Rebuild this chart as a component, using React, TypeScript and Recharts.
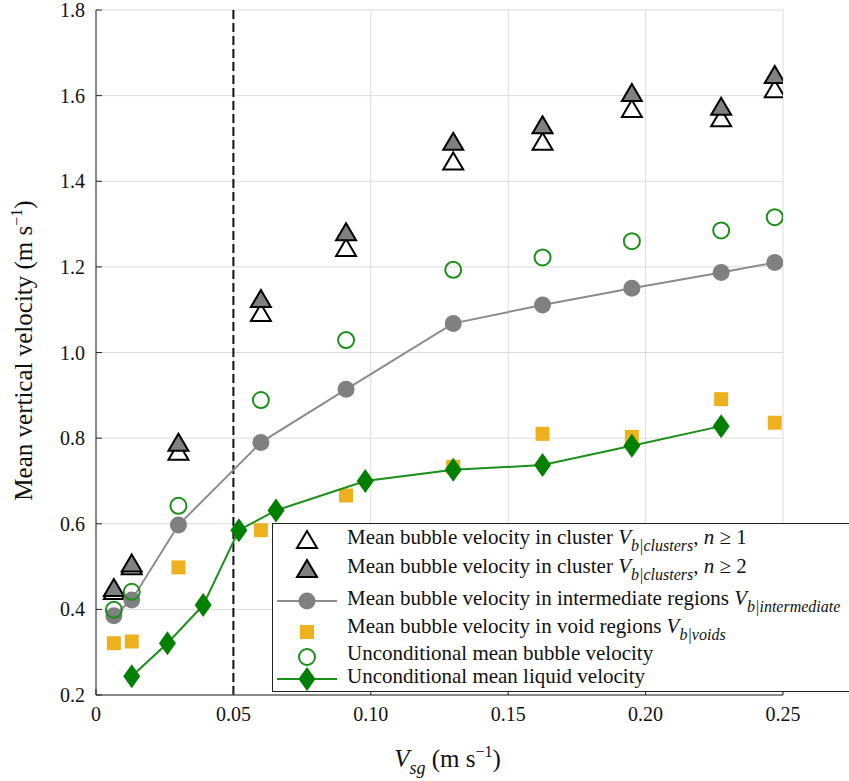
import { ScatterChart, Scatter, XAxis, YAxis, CartesianGrid, ReferenceLine, Legend } from "recharts";

document.body.style.margin = "0";

const SERIF = "'Liberation Serif', 'Times New Roman', serif";

// superficial gas velocity (m/s) for the bubble series
const vsgBubble = [0.0065, 0.013, 0.03, 0.06, 0.091, 0.13, 0.1625, 0.195, 0.2275, 0.247];
// superficial gas velocity for the liquid series
const vsgLiquid = [0.013, 0.026, 0.039, 0.052, 0.0655, 0.098, 0.13, 0.1625, 0.195, 0.2275];

const clusterN1 = [0.443, 0.501, 0.768, 1.092, 1.244, 1.446, 1.492, 1.569, 1.547, 1.615];
const clusterN2 = [0.45, 0.507, 0.789, 1.125, 1.281, 1.492, 1.531, 1.606, 1.574, 1.648];
const intermediate = [0.385, 0.422, 0.597, 0.79, 0.914, 1.068, 1.111, 1.15, 1.187, 1.21];
const voids = [0.321, 0.325, 0.498, 0.585, 0.666, 0.733, 0.81, 0.803, 0.891, 0.836];
const bubbleMean = [0.399, 0.441, 0.642, 0.889, 1.029, 1.193, 1.222, 1.26, 1.285, 1.316];
const liquidMean = [0.244, 0.321, 0.41, 0.585, 0.631, 0.7, 0.726, 0.737, 0.782, 0.828];

const xTicks = [0, 0.05, 0.1, 0.15, 0.2, 0.25];
const yTicks = [0.2, 0.4, 0.6, 0.8, 1.0, 1.2, 1.4, 1.6, 1.8];

const pair = (xs: number[], ys: number[]) => xs.map((x, i) => ({ x, y: ys[i] }));

const GREEN = "#008000";
const GREEN_LINE = "#1a8f1a";
const GRAY = "#808080";
const ORANGE = "#EDB120";

const triPoints = (cx: number, cy: number) =>
  `${cx},${cy - 9} ${cx + 10},${cy + 8} ${cx - 10},${cy + 8}`;

const TriOpen = (p: any) => (
  <polygon points={triPoints(p.cx, p.cy)} fill="#fff" stroke="#000" strokeWidth={2} strokeLinejoin="miter" />
);
const TriGray = (p: any) => (
  <polygon points={triPoints(p.cx, p.cy)} fill={GRAY} stroke="#000" strokeWidth={2} strokeLinejoin="miter" />
);
const GrayDot = (p: any) => <circle cx={p.cx} cy={p.cy} r={8.5} fill={GRAY} />;
const Square = (p: any) => <rect x={p.cx - 7} y={p.cy - 7} width={14} height={14} fill={ORANGE} />;
const Ring = (p: any) => <circle cx={p.cx} cy={p.cy} r={8} fill="none" stroke={GREEN_LINE} strokeWidth={2} />;
const diamondPoints = (cx: number, cy: number) =>
  `${cx},${cy - 12} ${cx + 8.5},${cy} ${cx},${cy + 12} ${cx - 8.5},${cy}`;
const Diamond = (p: any) => <polygon points={diamondPoints(p.cx, p.cy)} fill={GREEN} />;

const fmtX = (v: number) => (v === 0 ? "0" : v.toFixed(2));
const fmtY = (v: number) => v.toFixed(1);
const blank = () => "";

const XTick = (p: any) => (
  <text x={p.x} y={p.y} dy="0.71em" textAnchor="middle" fontFamily={SERIF} fontSize={20} fill="#111">
    {fmtX(p.payload.value)}
  </text>
);
const YTick = (p: any) => (
  <text x={p.x} y={p.y} dy="0.355em" textAnchor="end" fontFamily={SERIF} fontSize={20} fill="#111">
    {fmtY(p.payload.value)}
  </text>
);

const XLabel = (props: any) => {
  const vb = props.viewBox || { x: 96, y: 695, width: 687 };
  return (
    <text x={vb.x + vb.width / 2 + 8} y={vb.y + 72} textAnchor="middle" fontFamily={SERIF} fontSize={25} fill="#111">
      <tspan fontStyle="italic">V</tspan>
      <tspan fontStyle="italic" fontSize={18} dy={7}>sg</tspan>
      <tspan dy={-7}>{" (m s"}</tspan>
      <tspan fontSize={16} dy={-10}>−1</tspan>
      <tspan dy={10}>)</tspan>
    </text>
  );
};

const YLabel = (props: any) => {
  const vb = props.viewBox || { x: 0, y: 10, height: 685 };
  const x = vb.x + 32;
  const y = vb.y + vb.height / 2 - 2;
  return (
    <text x={x} y={y} transform={`rotate(-90, ${x}, ${y})`} textAnchor="middle" fontFamily={SERIF} fontSize={25} fill="#111">
      Mean vertical velocity (m s
      <tspan fontSize={16} dy={-10}>−1</tspan>
      <tspan dy={10}>)</tspan>
    </text>
  );
};

const LegendBox = () => {
  const fs = 21;
  const sub = 16;
  return (
    <svg width={577} height={170} style={{ display: "block" }} fontFamily={SERIF}>
      <rect x={0.5} y={0.5} width={620} height={168} fill="#fff" stroke="#222" strokeWidth={1} />
      {/* row 1 */}
      <polygon points={triPoints(35, 17)} fill="#fff" stroke="#000" strokeWidth={2} />
      <text x={75} y={21} fontSize={fs} fill="#111">
        Mean bubble velocity in cluster <tspan fontStyle="italic">V</tspan>
        <tspan fontStyle="italic" fontSize={sub} dy={7}>b|clusters</tspan>
        <tspan dy={-7}>{", "}</tspan>
        <tspan fontStyle="italic">n</tspan>
        <tspan>{" ≥ 1"}</tspan>
      </text>
      {/* row 2 */}
      <polygon points={triPoints(35, 46)} fill={GRAY} stroke="#000" strokeWidth={2} />
      <text x={75} y={50} fontSize={fs} fill="#111">
        Mean bubble velocity in cluster <tspan fontStyle="italic">V</tspan>
        <tspan fontStyle="italic" fontSize={sub} dy={7}>b|clusters</tspan>
        <tspan dy={-7}>{", "}</tspan>
        <tspan fontStyle="italic">n</tspan>
        <tspan>{" ≥ 2"}</tspan>
      </text>
      {/* row 3 */}
      <line x1={5} x2={65} y1={78} y2={78} stroke="#8c8c8c" strokeWidth={2} />
      <circle cx={35} cy={78} r={8.5} fill={GRAY} />
      <text x={75} y={82} fontSize={fs} fill="#111">
        Mean bubble velocity in intermediate regions <tspan fontStyle="italic">V</tspan>
        <tspan fontStyle="italic" fontSize={sub} dy={7}>b|intermediate</tspan>
      </text>
      {/* row 4 */}
      <rect x={28} y={102} width={14} height={14} fill={ORANGE} />
      <text x={75} y={110} fontSize={fs} fill="#111">
        Mean bubble velocity in void regions <tspan fontStyle="italic">V</tspan>
        <tspan fontStyle="italic" fontSize={sub} dy={7}>b|voids</tspan>
      </text>
      {/* row 5 */}
      <circle cx={35} cy={134} r={8} fill="none" stroke={GREEN_LINE} strokeWidth={2} />
      <text x={75} y={137} fontSize={fs} fill="#111">
        Unconditional mean bubble velocity
      </text>
      {/* row 6 */}
      <line x1={5} x2={65} y1={156} y2={156} stroke={GREEN_LINE} strokeWidth={2} />
      <polygon points={diamondPoints(35, 156)} fill={GREEN} />
      <text x={75} y={160} fontSize={fs} fill="#111">
        Unconditional mean liquid velocity
      </text>
    </svg>
  );
};

export default function App() {
  return (
    <div style={{ width: 849, height: 781, overflow: "hidden", background: "#fff", fontFamily: SERIF }}>
      <ScatterChart width={849} height={781} margin={{ top: 10, right: 66, bottom: 0, left: 0 }}>
        <CartesianGrid stroke="#dcdcdc" strokeWidth={1} />
        <XAxis
          type="number"
          dataKey="x"
          domain={[0, 0.25]}
          ticks={xTicks}
          allowDataOverflow
          height={86}
          tickSize={-6}
          tickMargin={18}
          stroke="#262626"
          tick={XTick}
          label={XLabel}
        />
        <XAxis
          xAxisId="top"
          orientation="top"
          type="number"
          domain={[0, 0.25]}
          ticks={xTicks}
          allowDataOverflow
          tickFormatter={blank}
          height={0}
          tickSize={-6}
          stroke="#262626"
        />
        <YAxis
          type="number"
          dataKey="y"
          domain={[0.2, 1.8]}
          ticks={yTicks}
          allowDataOverflow
          width={96}
          tickSize={-6}
          tickMargin={17}
          stroke="#262626"
          tick={YTick}
          label={YLabel}
        />
        <YAxis
          yAxisId="right"
          orientation="right"
          type="number"
          domain={[0.2, 1.8]}
          ticks={yTicks}
          allowDataOverflow
          tickFormatter={blank}
          width={0}
          tickSize={-6}
          stroke="#262626"
        />
        <ReferenceLine x={0.05} stroke="#111" strokeWidth={2} strokeDasharray="9 4" />
        <Scatter data={pair(vsgBubble, clusterN1)} shape={TriOpen} isAnimationActive={false} />
        <Scatter data={pair(vsgBubble, clusterN2)} shape={TriGray} isAnimationActive={false} />
        <Scatter
          data={pair(vsgBubble, intermediate)}
          line={{ stroke: "#8c8c8c", strokeWidth: 2 }}
          lineType="joint"
          shape={GrayDot}
          isAnimationActive={false}
        />
        <Scatter data={pair(vsgBubble, voids)} shape={Square} isAnimationActive={false} />
        <Scatter data={pair(vsgBubble, bubbleMean)} shape={Ring} isAnimationActive={false} />
        <Scatter
          data={pair(vsgLiquid, liquidMean)}
          line={{ stroke: GREEN_LINE, strokeWidth: 2 }}
          lineType="joint"
          shape={Diamond}
          isAnimationActive={false}
        />
        <Legend
          layout="vertical"
          align="center"
          verticalAlign="middle"
          wrapperStyle={{ left: 272, top: 523, width: 577, height: 170 }}
          content={() => <LegendBox />}
        />
      </ScatterChart>
    </div>
  );
}
